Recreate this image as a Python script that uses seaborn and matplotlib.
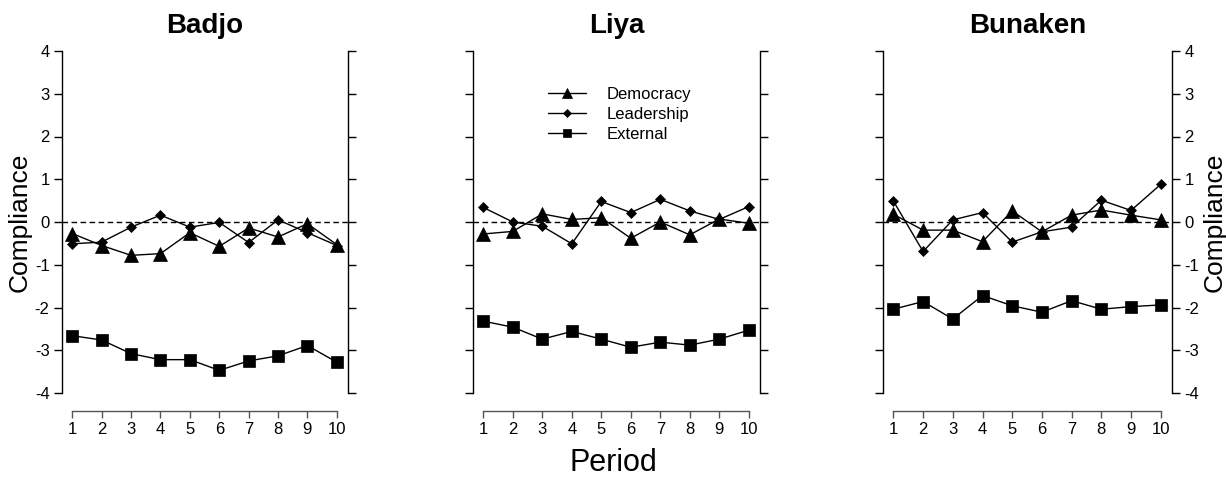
import numpy as np
import pandas as pd
import matplotlib
matplotlib.use("Agg")
import matplotlib.pyplot as plt
import seaborn as sns

# ==================== data ====================
periods = list(range(1, 11))
sites = ["Badjo", "Liya", "Bunaken"]

badjo_democracy = [-0.27, -0.55, -0.78, -0.74, -0.25, -0.57, -0.14, -0.35, -0.04, -0.53]
badjo_leadership = [-0.51, -0.47, -0.12, 0.16, -0.12, -0.01, -0.48, 0.05, -0.25, -0.55]
badjo_external = [-2.66, -2.76, -3.08, -3.22, -3.22, -3.47, -3.25, -3.13, -2.89, -3.28]

liya_democracy = [-0.28, -0.22, 0.19, 0.06, 0.10, -0.38, 0.00, -0.30, 0.07, -0.03]
liya_leadership = [0.34, 0.00, -0.10, -0.51, 0.48, 0.22, 0.53, 0.26, 0.06, 0.36]
liya_external = [-2.32, -2.46, -2.74, -2.56, -2.74, -2.93, -2.81, -2.88, -2.74, -2.53]

bunaken_democracy = [0.18, -0.19, -0.19, -0.46, 0.26, -0.23, 0.16, 0.28, 0.16, 0.05]
bunaken_leadership = [0.49, -0.69, 0.05, 0.22, -0.47, -0.23, -0.12, 0.51, 0.27, 0.88]
bunaken_external = [-2.04, -1.86, -2.27, -1.72, -1.96, -2.11, -1.84, -2.04, -1.98, -1.94]

series = {
    "Badjo": [badjo_democracy, badjo_leadership, badjo_external],
    "Liya": [liya_democracy, liya_leadership, liya_external],
    "Bunaken": [bunaken_democracy, bunaken_leadership, bunaken_external],
}
labels = ["Democracy", "Leadership", "External"]
markers = ["^", "D", "s"]
msizes = [9.5, 5.5, 8.5]

# ==================== style ====================
sns.set_style("ticks")
plt.rcParams['font.family'] = ['Liberation Sans', 'DejaVu Sans']
plt.rcParams['axes.unicode_minus'] = False
plt.rcParams['text.color'] = 'black'
plt.rcParams['axes.labelcolor'] = 'black'
plt.rcParams['xtick.color'] = 'black'
plt.rcParams['ytick.color'] = 'black'

fig = plt.figure(figsize=(12.26, 4.78), dpi=100)
W, H = 1226, 478
lefts = [62, 473, 883]
rights = [348, 760, 1172]
top, bottom = 51, 393

for i, site in enumerate(sites):
    ax = fig.add_axes([lefts[i] / W, 1 - bottom / H,
                       (rights[i] - lefts[i]) / W, (bottom - top) / H])
    ax.axhline(0, ls=(0, (4, 2.5)), color='black', lw=1, zorder=1)
    for vals, lab, mk, ms in zip(series[site], labels, markers, msizes):
        df = pd.DataFrame({"Period": periods, "Compliance": vals})
        sns.lineplot(data=df, x="Period", y="Compliance", ax=ax,
                     color='black', lw=1, marker=mk, markersize=ms,
                     markeredgecolor='black', markeredgewidth=0.5,
                     label=lab, legend=False, zorder=3)

    ax.set_xlim(0.65, 10.38)
    ax.set_ylim(-4, 4)
    ax.set_xticks(periods)
    ax.set_yticks(range(-4, 5))
    ax.set_xlabel("")
    ax.set_title(site, fontsize=20, fontweight='bold', pad=13, color='black')

    for side in ['left', 'right', 'bottom']:
        ax.spines[side].set_visible(True)
        ax.spines[side].set_color('black')
        ax.spines[side].set_linewidth(1)
    ax.spines['top'].set_visible(False)
    ax.spines['bottom'].set_position(('outward', 13))
    ax.spines['bottom'].set_bounds(1, 10)
    ax.spines['bottom'].set_color('#555555')

    ax.tick_params(axis='x', direction='out', length=5, width=1,
                   color='#555555', labelcolor='black', labelsize=12, pad=3)
    ax.tick_params(axis='y', direction='out', length=6, width=1,
                   labelsize=12, left=True, right=True, pad=3)

    if i == 0:
        ax.tick_params(axis='y', labelleft=True, labelright=False)
        ax.set_ylabel("Compliance", fontsize=19, labelpad=2)
    elif i == 1:
        ax.tick_params(axis='y', labelleft=False, labelright=False)
        ax.set_ylabel("")
        ax.legend(loc='upper left', bbox_to_anchor=(0.261, 0.895),
                  frameon=False, fontsize=12, borderpad=0, borderaxespad=0,
                  handlelength=2.3, handletextpad=1.2, labelspacing=0.3,
                  markerscale=0.7)
    else:
        ax.tick_params(axis='y', labelleft=False, labelright=True)
        ax.yaxis.set_label_position('right')
        ax.set_ylabel("Compliance", fontsize=19, labelpad=2, rotation=90)

fig.text(0.5, 1 - 463 / H, "Period", ha='center', va='center', fontsize=22)

fig.savefig("out.png", dpi=100)
